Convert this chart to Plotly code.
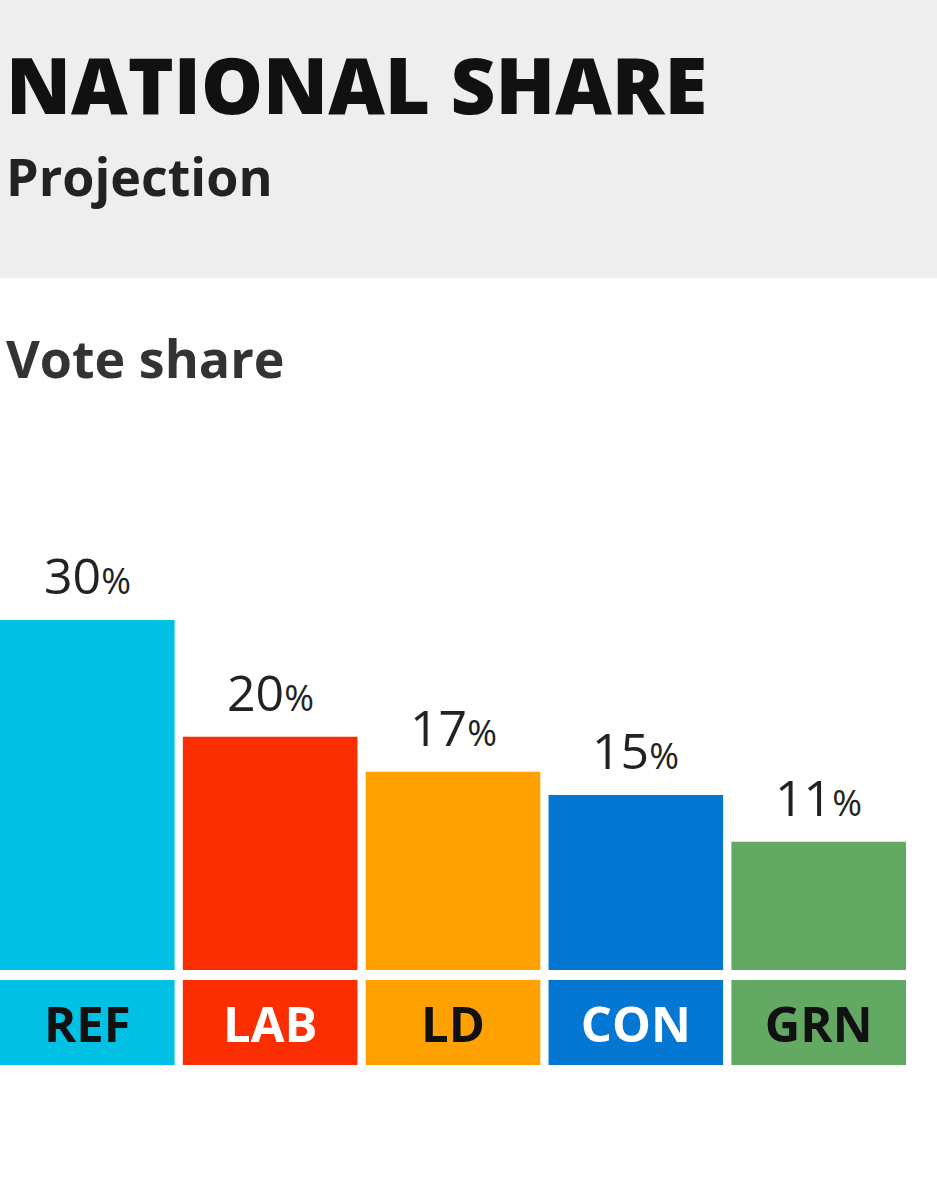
import plotly.graph_objects as go

# Data
parties = ['REF', 'LAB', 'LD', 'CON', 'GRN']
vote_share = [30, 20, 17, 15, 11]
bar_colors = ['#00c1e4', '#fa2e00', '#ffa100', '#0477d3', '#63a963']
label_colors = ['#111111', '#ffffff', '#111111', '#ffffff', '#111111']
box_height = [1, 1, 1, 1, 1]

FONT = 'Open Sans'
W, H = 937, 1200


def py(px):
    # pixel row (from top) -> paper y
    return 1 - px / H


fig = go.Figure()

# main bars
fig.add_trace(go.Bar(
    x=parties, y=vote_share,
    marker=dict(color=bar_colors, line=dict(width=0)),
    width=0.955,
    hoverinfo='skip',
    xaxis='x', yaxis='y',
))

# party label boxes underneath
fig.add_trace(go.Bar(
    x=parties, y=box_height,
    marker=dict(color=bar_colors, line=dict(width=0)),
    width=0.955,
    text=parties,
    textposition='inside',
    insidetextanchor='middle',
    textangle=0,
    textfont=dict(family=FONT, size=49, color=label_colors, weight=700),
    hoverinfo='skip',
    xaxis='x2', yaxis='y2',
))

# percentage labels above bars
for p, v in zip(parties, vote_share):
    fig.add_annotation(
        x=p, y=v, xref='x', yref='y',
        text=f'{v}<span style="font-size:36px">%</span>',
        showarrow=False, yanchor='bottom', yshift=9,
        font=dict(family=FONT, size=50, color='#222222'),
    )

# header
fig.add_shape(type='rect', xref='paper', yref='paper',
              x0=0, x1=1, y0=py(278), y1=1,
              fillcolor='#eeeeee', line=dict(width=0), layer='below')

fig.add_annotation(x=0.004, y=py(84), xref='paper', yref='paper',
                   text='NATIONAL SHARE', showarrow=False,
                   xanchor='left', yanchor='middle',
                   font=dict(family=FONT, size=78, color='#111111', weight=800))
fig.add_annotation(x=0.004, y=py(175), xref='paper', yref='paper',
                   text='Projection', showarrow=False,
                   xanchor='left', yanchor='middle',
                   font=dict(family=FONT, size=52, color='#222222', weight=700))
fig.add_annotation(x=0.004, y=py(357), xref='paper', yref='paper',
                   text='Vote share', showarrow=False,
                   xanchor='left', yanchor='middle',
                   font=dict(family=FONT, size=52, color='#333333', weight=700))

xr = [-0.4775, 4.4775]
fig.update_layout(
    width=W, height=H,
    margin=dict(l=0, r=0, t=0, b=0),
    paper_bgcolor='white', plot_bgcolor='rgba(0,0,0,0)',
    showlegend=False,
    xaxis=dict(domain=[0, 906 / W], range=xr, visible=False, fixedrange=True),
    xaxis2=dict(domain=[0, 906 / W], range=xr, visible=False, anchor='y2'),
    yaxis=dict(domain=[py(970), py(400)], range=[0, (970 - 400) / (350 / 30)],
               visible=False),
    yaxis2=dict(domain=[py(1065), py(980)], range=[0, 1], visible=False,
                anchor='x2'),
)

fig.write_html('out.html', config={'displayModeBar': False},
               post_script="document.body.style.margin='0';")
